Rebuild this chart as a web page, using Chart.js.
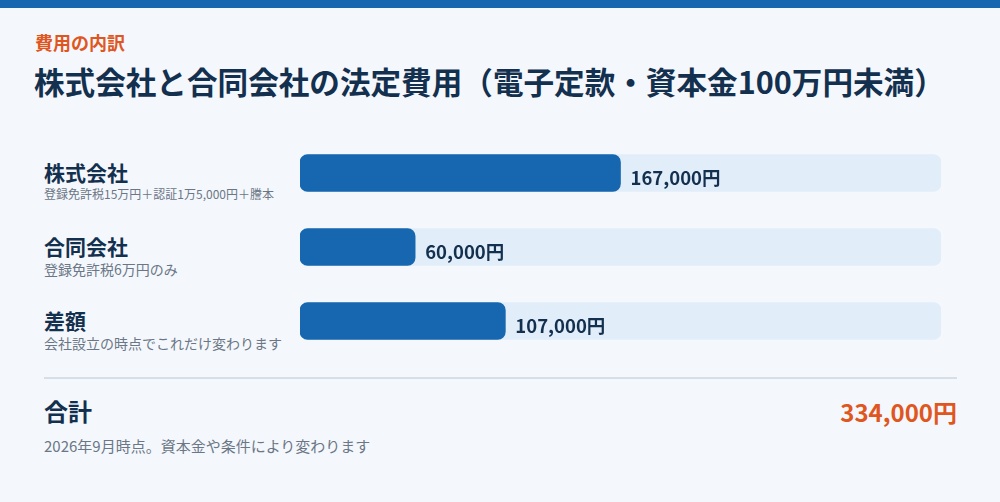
<!DOCTYPE html>
<html lang="ja">
<head>
<meta charset="utf-8">
<script src="https://cdn.jsdelivr.net/npm/chart.js@4.4.1/dist/chart.umd.min.js"></script>
<style>
  html, body { margin: 0; padding: 0; }
  body {
    width: 1000px; height: 502px; overflow: hidden;
    background: #f4f8fc;
    font-family: "Noto Sans CJK JP", "Noto Sans", sans-serif;
    position: relative;
  }
  .topbar { position: absolute; left: 0; top: 0; width: 1000px; height: 8px; background: #1767b0; }
  .kicker { position: absolute; left: 35px; top: 30px; font-size: 18px; font-weight: 700; color: #e0561f; line-height: 24px; }
  .title { position: absolute; left: 34px; top: 60px; font-size: 30.6px; font-weight: 700; color: #14304f; line-height: 42px; white-space: nowrap; }
  .rows { position: absolute; left: 44px; top: 135px; width: 250px; }
  .row { height: 74px; position: relative; }
  .row .name { position: absolute; top: 23px; font-size: 21px; font-weight: 700; color: #14304f; line-height: 28px; }
  .row .note { position: absolute; top: 51px; font-size: 14px; color: #6b7686; line-height: 18px; white-space: nowrap; }
  .row .note.tight { font-size: 12px; line-height: 16px; }
  #wrap { position: absolute; left: 300px; top: 135.5px; width: 700px; height: 222px; }
  .divider { position: absolute; left: 44px; top: 377px; width: 913px; height: 2px; background: #d6dfe8; }
  .sumlabel { position: absolute; left: 44px; top: 395px; font-size: 24px; font-weight: 700; color: #14304f; line-height: 32px; }
  .sumvalue { position: absolute; right: 43px; top: 396px; font-size: 24px; font-weight: 700; color: #e0561f; line-height: 32px; }
  .foot { position: absolute; left: 44px; top: 435px; font-size: 15px; color: #6b7686; line-height: 22px; }
</style>
</head>
<body>
<div class="topbar"></div>
<div class="kicker">費用の内訳</div>
<div class="title">株式会社と合同会社の法定費用（電子定款・資本金100万円未満）</div>
<div class="rows" id="rows"></div>
<div id="wrap"><canvas id="costChart"></canvas></div>
<div class="divider"></div>
<div class="sumlabel">合計</div>
<div class="sumvalue" id="sumvalue"></div>
<div class="foot">2026年9月時点。資本金や条件により変わります</div>

<script>
const categories = ['株式会社', '合同会社', '差額'];
const notes = ['登録免許税15万円＋認証1万5,000円＋謄本', '登録免許税6万円のみ', '会社設立の時点でこれだけ変わります'];
const amounts = [167000, 60000, 107000];

const total = amounts.reduce((a, b) => a + b, 0);
const yen = v => v.toLocaleString('en-US') + '円';

// left-hand labels (the long first note is set smaller so it fits)
const rowsEl = document.getElementById('rows');
categories.forEach((name, i) => {
    const row = document.createElement('div');
    row.className = 'row';
    const cls = notes[i].length > 20 ? 'note tight' : 'note';
    row.innerHTML = `<div class="name">${name}</div><div class="${cls}">${notes[i]}</div>`;
    rowsEl.appendChild(row);
});
document.getElementById('sumvalue').textContent = yen(total);

// value text just after the end of each bar
const valueLabels = {
    id: 'valueLabels',
    afterDatasetsDraw(chart) {
        const ctx = chart.ctx;
        const meta = chart.getDatasetMeta(1);
        ctx.save();
        ctx.font = '700 18.5px "Noto Sans CJK JP", sans-serif';
        ctx.fillStyle = '#14304f';
        ctx.textAlign = 'left';
        ctx.textBaseline = 'middle';
        meta.data.forEach((bar, i) => {
            ctx.fillText(yen(amounts[i]), bar.x + 10, bar.y + 4.5);
        });
        ctx.restore();
    }
};

new Chart(document.getElementById('costChart').getContext('2d'), {
    type: 'bar',
    data: {
        labels: categories,
        datasets: [
            {
                label: 'track',
                data: categories.map(() => total),
                backgroundColor: '#e1edf9',
                borderRadius: 8,
                borderSkipped: false,
                barThickness: 37,
                grouped: false,
                order: 2
            },
            {
                label: '費用',
                data: amounts,
                backgroundColor: '#1767b0',
                borderRadius: 8,
                borderSkipped: false,
                barThickness: 37,
                grouped: false,
                order: 1
            }
        ]
    },
    options: {
        indexAxis: 'y',
        responsive: true,
        maintainAspectRatio: false,
        animation: false,
        layout: { padding: { left: 0, right: 59, top: 0, bottom: 0 } },
        plugins: { legend: { display: false }, tooltip: { enabled: false } },
        scales: {
            x: { display: false, min: 0, max: total },
            y: { display: false }
        }
    },
    plugins: [valueLabels]
});
</script>
</body>
</html>
